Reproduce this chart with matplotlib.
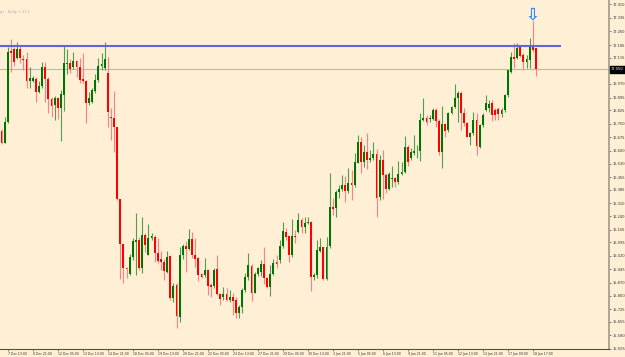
import matplotlib
matplotlib.use("Agg")
import matplotlib.pyplot as plt
import numpy as np

# H4 candles (price)
opens = [
    16.710, 16.645, 16.762, 17.151, 17.162, 17.116, 17.162, 17.107, 17.106, 16.988,
    16.988, 16.997, 16.928, 16.959, 17.065, 16.997, 16.887, 16.854, 16.894, 16.835,
    16.909, 17.082, 17.087, 17.065, 17.097, 17.065, 16.996, 16.988, 16.866, 16.872,
    16.933, 16.992, 17.069, 17.057, 17.032, 16.789, 16.780, 16.730, 16.334, 16.084,
    15.955, 15.920, 16.012, 16.098, 16.108, 15.951, 16.135, 16.025, 16.117, 16.122,
    16.034, 16.001, 15.988, 15.929, 16.019, 15.785, 15.857, 15.684, 16.025, 16.074,
    16.056, 16.113, 16.025, 16.006, 15.918, 15.914, 15.942, 15.859, 15.853, 15.946,
    15.809, 15.791, 15.809, 15.776, 15.794, 15.776, 15.702, 15.739, 15.831, 15.901,
    15.965, 15.816, 15.920, 15.932, 15.975, 15.899, 15.849, 15.920, 15.988, 15.997,
    16.074, 16.153, 16.130, 16.025, 16.130, 16.153, 16.218, 16.178, 16.203, 16.209,
    15.901, 15.914, 16.048, 16.067, 15.890, 16.074, 16.288, 16.283, 16.371, 16.389,
    16.412, 16.380, 16.421, 16.413, 16.535, 16.647, 16.540, 16.592, 16.550, 16.562,
    16.581, 16.347, 16.550, 16.467, 16.388, 16.443, 16.452, 16.430, 16.472, 16.485,
    16.623, 16.559, 16.590, 16.598, 16.599, 16.771, 16.783, 16.776, 16.776, 16.826,
    16.767, 16.592, 16.749, 16.715, 16.811, 16.841, 16.894, 16.918, 16.811, 16.756,
    16.678, 16.697, 16.771, 16.623, 16.743, 16.826, 16.837, 16.865, 16.826, 16.832,
    16.804, 16.826, 16.909, 17.036, 17.119, 17.113, 17.180, 17.130, 17.091, 17.102,
    17.174, 17.169,
]
highs = [
    16.721, 16.789, 17.174, 17.217, 17.176, 17.204, 17.180, 17.130, 17.149, 17.065,
    17.014, 17.007, 16.986, 17.093, 17.090, 17.010, 16.900, 16.903, 16.900, 16.937,
    17.181, 17.163, 17.106, 17.145, 17.102, 17.115, 17.139, 16.992, 16.927, 16.948,
    17.025, 17.112, 17.141, 17.204, 17.121, 16.835, 16.933, 16.732, 16.334, 16.086,
    15.960, 16.030, 16.117, 16.258, 16.126, 16.236, 16.145, 16.196, 16.146, 16.135,
    16.117, 16.048, 16.001, 16.047, 16.025, 15.868, 15.868, 16.071, 16.085, 16.102,
    16.168, 16.153, 16.117, 16.012, 15.925, 16.006, 15.946, 15.868, 15.951, 16.025,
    15.816, 15.849, 15.841, 15.831, 15.813, 15.794, 15.748, 15.841, 15.923, 16.037,
    15.973, 15.932, 15.960, 15.997, 16.071, 15.905, 15.969, 16.001, 16.025, 16.108,
    16.209, 16.172, 16.135, 16.222, 16.163, 16.255, 16.227, 16.236, 16.236, 16.211,
    15.923, 16.108, 16.117, 16.071, 16.126, 16.479, 16.338, 16.384, 16.412, 16.467,
    16.461, 16.504, 16.494, 16.590, 16.688, 16.678, 16.633, 16.701, 16.605, 16.651,
    16.609, 16.577, 16.605, 16.476, 16.485, 16.517, 16.457, 16.546, 16.540, 16.682,
    16.633, 16.614, 16.688, 16.633, 16.808, 16.891, 16.798, 16.798, 16.835, 16.839,
    16.775, 16.848, 16.756, 16.817, 16.848, 16.970, 16.931, 16.933, 16.835, 16.761,
    16.706, 16.817, 16.811, 16.749, 16.808, 16.909, 16.881, 16.881, 16.837, 16.843,
    16.837, 16.914, 17.047, 17.147, 17.196, 17.196, 17.185, 17.141, 17.130, 17.224,
    17.318, 17.169,
]
lows = [
    16.638, 16.643, 16.753, 17.038, 17.069, 17.106, 17.087, 17.047, 16.946, 16.946,
    16.981, 16.872, 16.918, 16.946, 16.872, 16.811, 16.789, 16.771, 16.775, 16.656,
    16.822, 17.025, 17.029, 17.051, 17.007, 16.974, 16.974, 16.753, 16.854, 16.865,
    16.922, 16.983, 17.047, 17.047, 16.730, 16.660, 16.595, 16.329, 15.890, 15.868,
    15.896, 15.914, 15.997, 15.914, 15.942, 15.927, 16.043, 16.025, 16.108, 15.988,
    15.979, 15.942, 15.886, 15.923, 15.776, 15.767, 15.619, 15.656, 16.001, 15.932,
    16.052, 16.006, 15.960, 15.883, 15.897, 15.905, 15.803, 15.794, 15.844, 15.803,
    15.748, 15.776, 15.772, 15.767, 15.693, 15.675, 15.675, 15.704, 15.822, 15.886,
    15.770, 15.813, 15.909, 15.909, 15.864, 15.840, 15.798, 15.914, 15.951, 15.979,
    16.062, 16.108, 15.988, 16.015, 16.093, 16.144, 16.144, 16.144, 16.196, 15.827,
    15.886, 15.896, 16.043, 15.886, 15.886, 16.062, 16.246, 16.236, 16.338, 16.380,
    16.319, 16.366, 16.329, 16.402, 16.531, 16.479, 16.509, 16.498, 16.539, 16.550,
    16.236, 16.329, 16.332, 16.369, 16.384, 16.399, 16.402, 16.417, 16.467, 16.479,
    16.517, 16.550, 16.577, 16.559, 16.546, 16.767, 16.743, 16.760, 16.771, 16.730,
    16.577, 16.504, 16.678, 16.706, 16.804, 16.835, 16.762, 16.715, 16.738, 16.675,
    16.633, 16.688, 16.577, 16.614, 16.734, 16.821, 16.815, 16.765, 16.771, 16.771,
    16.787, 16.815, 16.898, 17.031, 17.058, 17.108, 17.119, 17.047, 17.058, 17.058,
    17.147, 17.014,
]
closes = [
    16.645, 16.762, 17.149, 17.143, 17.093, 17.162, 17.112, 17.102, 16.988, 17.003,
    17.005, 16.928, 16.959, 17.065, 16.997, 16.887, 16.848, 16.891, 16.839, 16.914,
    17.084, 17.087, 17.054, 17.098, 17.065, 16.992, 16.986, 16.866, 16.891, 16.937,
    16.992, 17.071, 17.080, 17.106, 16.817, 16.780, 16.730, 16.334, 16.084, 15.955,
    15.946, 16.012, 16.104, 16.108, 15.951, 16.135, 16.080, 16.117, 16.130, 16.034,
    15.993, 15.988, 15.938, 16.015, 15.789, 15.853, 15.687, 16.025, 16.074, 16.056,
    16.113, 16.025, 16.001, 15.914, 15.905, 15.942, 15.855, 15.849, 15.942, 15.809,
    15.780, 15.809, 15.776, 15.794, 15.772, 15.705, 15.739, 15.831, 15.901, 15.969,
    15.816, 15.920, 15.951, 15.973, 15.899, 15.849, 15.920, 15.982, 15.975, 16.074,
    16.159, 16.126, 16.025, 16.130, 16.124, 16.218, 16.178, 16.203, 16.209, 15.901,
    15.914, 16.052, 16.067, 15.890, 16.067, 16.288, 16.277, 16.371, 16.389, 16.412,
    16.380, 16.421, 16.413, 16.537, 16.647, 16.540, 16.592, 16.550, 16.562, 16.581,
    16.341, 16.550, 16.467, 16.388, 16.472, 16.452, 16.430, 16.472, 16.485, 16.623,
    16.540, 16.592, 16.599, 16.600, 16.771, 16.783, 16.761, 16.783, 16.826, 16.767,
    16.592, 16.749, 16.712, 16.808, 16.841, 16.894, 16.922, 16.808, 16.756, 16.678,
    16.697, 16.771, 16.627, 16.743, 16.798, 16.865, 16.859, 16.798, 16.798, 16.804,
    16.826, 16.909, 17.047, 17.119, 17.108, 17.169, 17.124, 17.091, 17.108, 17.174,
    17.158, 17.050,
]

date_labels = [
    "7 Dec 13:00", "8 Dec 21:00", "12 Dec 05:00", "13 Dec 13:00", "14 Dec 21:00",
    "18 Dec 05:00", "19 Dec 13:00", "20 Dec 21:00", "22 Dec 05:00", "23 Dec 13:00",
    "27 Dec 21:00", "29 Dec 05:00", "30 Dec 13:00", "3 Jan 21:00", "5 Jan 05:00",
    "6 Jan 13:00", "9 Jan 21:00", "11 Jan 05:00", "12 Jan 13:00", "13 Jan 21:00",
    "17 Jan 09:00", "18 Jan 17:00",
]
date_label_bars = [2 + 8 * i for i in range(len(date_labels))]

price_ticks = [
    17.410, 17.335, 17.260, 17.185, 17.115, 16.970, 16.895, 16.825, 16.750,
    16.675, 16.600, 16.530, 16.455, 16.385, 16.310, 16.240, 16.165, 16.095,
    16.020, 15.945, 15.870, 15.800, 15.725, 15.655, 15.580, 15.505,
]

resistance = 17.180      # blue horizontal line
resistance_end = 179     # bar where the drawn line stops
arrow_bar = 170          # sell arrow above this candle

BG = "#ffefd5"
GREEN, GREEN_WICK = "#007400", "#4f9f4f"
RED, RED_WICK = "#ff0000", "#ff8080"

fig = plt.figure(figsize=(6.25, 3.57), dpi=100, facecolor=BG)
ax = fig.add_axes([0, 8 / 357, 609 / 625, 349 / 357], facecolor=BG)

o, h, l, c = map(np.array, (opens, highs, lows, closes))
x = np.arange(len(o))
up = c >= o
ax.vlines(x[up], l[up], h[up], colors=GREEN_WICK, lw=0.8, zorder=2)
ax.vlines(x[~up], l[~up], h[~up], colors=RED_WICK, lw=0.8, zorder=2)
body = np.maximum(np.abs(c - o), 0.003)
ax.bar(x[up], body[up], bottom=np.minimum(o, c)[up], width=0.62,
       color=GREEN, linewidth=0, zorder=3)
ax.bar(x[~up], body[~up], bottom=np.minimum(o, c)[~up], width=0.62,
       color=RED, linewidth=0, zorder=3)

ax.set_xlim(-0.48, 194.4)
ax.set_ylim(15.505, 17.434)

# bid line + drawn resistance + arrow
ax.axhline(c[-1], color="#b8b8b8", lw=0.8, zorder=1)
ax.hlines(resistance, -0.48, resistance_end, color="#6262e6", lw=1.5, zorder=4)
ax.annotate("\u21e9", xy=(arrow_bar, h[arrow_bar]), xytext=(0, -1.5),
            textcoords="offset points", ha="center", va="bottom",
            color="#2f8cff", fontsize=12, fontweight="bold", zorder=5)

for s in ("top", "left"):
    ax.spines[s].set_visible(False)
ax.spines["right"].set_color("#a09a8a")
ax.spines["right"].set_linewidth(1.2)
ax.spines["bottom"].set_color("#505050")
ax.spines["bottom"].set_linewidth(0.8)

ax.yaxis.tick_right()
ax.set_yticks(price_ticks)
ax.set_yticklabels([f"{p:.3f}" for p in price_ticks])
ax.set_xticks(date_label_bars)
ax.set_xticklabels(date_labels, ha="left")
ax.tick_params(axis="both", direction="out", length=1.5, width=0.5,
               colors="#505050", labelsize=2.6, pad=0.8, labelcolor="#333333")
ax.tick_params(axis="x", labelsize=2.25)

# current price box
ax.annotate(f"{c[-1]:.3f}", xy=(1.0, c[-1]), xycoords=("axes fraction", "data"),
            xytext=(1.5, 0), textcoords="offset points", ha="left", va="center",
            fontsize=2.6, color="white",
            bbox=dict(boxstyle="square,pad=0.35", fc="black", ec="black"),
            annotation_clip=False, zorder=6)

fig.text(0.0, 1 - 12 / 357, "ps   Daily + 11.1", fontsize=2.6, color="#a8a8a8",
         va="center", ha="left")

fig.savefig("out.png", dpi=100, facecolor=BG)
